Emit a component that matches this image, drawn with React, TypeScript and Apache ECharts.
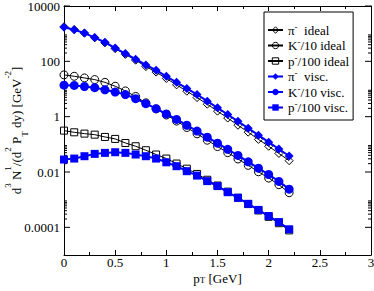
import React, { useEffect, useRef } from "react";
import * as echarts from "echarts";

const pT = [0, 0.1, 0.2, 0.3, 0.4, 0.5, 0.6, 0.7, 0.8, 0.9, 1.0, 1.1, 1.2, 1.3, 1.4, 1.5, 1.6, 1.7, 1.8, 1.9, 2.0, 2.1, 2.2];

const piIdeal = [1780, 1410, 1050, 708, 468, 288, 178, 110, 64.6, 40.7, 24.0, 14.1, 8.32, 4.9, 2.82, 1.58, 0.891, 0.49, 0.275, 0.151, 0.0851, 0.0468, 0.0257];
const kIdeal = [32.4, 28.8, 25.1, 21.9, 17.4, 12.6, 8.51, 5.37, 3.16, 1.91, 1.15, 0.692, 0.407, 0.24, 0.141, 0.0832, 0.0501, 0.0295, 0.0174, 0.0102, 0.00603, 0.00347, 0.00178];
const pIdeal = [0.313, 0.272, 0.244, 0.224, 0.185, 0.157, 0.112, 0.0853, 0.0612, 0.0428, 0.0306, 0.0202, 0.0132, 0.00851, 0.00525, 0.00324, 0.00195, 0.00117, 0.000692, 0.000407, 0.00024, 0.000141, 0.0000776];
const piVisc = [1700, 1380, 1050, 724, 490, 302, 191, 120, 74.1, 47.9, 28.8, 17.4, 10.5, 6.31, 3.63, 2.09, 1.2, 0.676, 0.38, 0.214, 0.12, 0.0676, 0.038];
const kVisc = [13.8, 13.5, 12.3, 11.2, 9.33, 7.76, 6.31, 4.47, 2.95, 1.95, 1.26, 0.794, 0.49, 0.302, 0.182, 0.11, 0.0661, 0.0398, 0.0234, 0.0138, 0.00813, 0.00457, 0.0024];
const pVisc = [0.0282, 0.0306, 0.0372, 0.0452, 0.0491, 0.0519, 0.0491, 0.0428, 0.0372, 0.0306, 0.0224, 0.0162, 0.0107, 0.00741, 0.00468, 0.00309, 0.00186, 0.00117, 0.000708, 0.000427, 0.000257, 0.000155, 0.0000851];

const yTickValues = [0.0001, 0.01, 1, 100, 10000];
const yTickLabels = ["0.0001", "0.01", "1", "100", "10000"];
const minorMultipliers = [2, 3, 4, 5, 6, 7, 8, 9];

const seriesNames = ["π- ideal", "K-/10 ideal", "p-/100 ideal", "π- visc.", "K-/10 visc.", "p-/100 visc."];
const legendRich: Record<string, string> = {
  "π- ideal": "{n|π}{s|-}{n|  ideal}",
  "K-/10 ideal": "{n|K}{s|-}{n|/10 ideal}",
  "p-/100 ideal": "{n|p}{s|-}{n|/100 ideal}",
  "π- visc.": "{n|π}{s|-}{n|  visc.}",
  "K-/10 visc.": "{n|K}{s|-}{n|/10 visc.}",
  "p-/100 visc.": "{n|p}{s|-}{n|/100 visc.}",
};

const FONT = "Liberation Serif";
const BLUE = "#0000ff";
const OPEN = "rgba(255,255,255,0)";

const rich = {
  n: { fontFamily: FONT, fontSize: 13, lineHeight: 16, color: "#000" },
  s: { fontFamily: FONT, fontSize: 9, lineHeight: 8, verticalAlign: "top", color: "#000" },
  b: { fontFamily: FONT, fontSize: 9, lineHeight: 9, verticalAlign: "bottom", color: "#000" },
};
const xRich = {
  n: { fontFamily: FONT, fontSize: 13, lineHeight: 12, color: "#000" },
  b: { fontFamily: FONT, fontSize: 9, lineHeight: 4, verticalAlign: "bottom", color: "#000" },
};
const yRich = {
  n: { fontFamily: FONT, fontSize: 13, lineHeight: 26, color: "#000" },
  s: { fontFamily: FONT, fontSize: 9, lineHeight: 11, verticalAlign: "top", color: "#000" },
  b: { fontFamily: FONT, fontSize: 9, lineHeight: 16, verticalAlign: "bottom", color: "#000" },
};

export default function App() {
  const ref = useRef<HTMLDivElement>(null);
  useEffect(() => {
    if (!ref.current) return;
    const chart = echarts.init(ref.current, undefined, { renderer: "svg" });

    const tickVals: number[][] = [];
    yTickValues.forEach((v) => tickVals.push([0, v, 1]));
    yTickValues.forEach((v) => {
      minorMultipliers.forEach((k) => {
        const t = v * k;
        if (t < 10000) tickVals.push([0, t, 0]);
      });
    });

    const mk = (v: number[]) => pT.map((x, i) => [x, v[i]]);

    const ideal = (name: string, data: number[], symbol: string, size: number) => ({
      name,
      type: "line",
      data: mk(data),
      symbol,
      symbolSize: size,
      showSymbol: true,
      z: 2,
      lineStyle: { color: "#000", width: 1 },
      itemStyle: { color: OPEN, borderColor: "#000", borderWidth: 1 },
    });
    const visc = (name: string, data: number[], symbol: string, size: number) => ({
      name,
      type: "line",
      data: mk(data),
      symbol,
      symbolSize: size,
      showSymbol: true,
      z: 3,
      lineStyle: { color: BLUE, width: 2 },
      itemStyle: { color: BLUE, borderColor: BLUE, borderWidth: 0 },
    });

    const xCommon = {
      type: "value",
      min: 0,
      max: 3,
      interval: 0.5,
      splitLine: { show: false },
      axisLine: { show: true, onZero: false, lineStyle: { color: "#000", width: 1 } },
      axisTick: { show: true, inside: true, length: 5, lineStyle: { color: "#000" } },
      minorTick: { show: true, splitNumber: 2, length: 3, lineStyle: { color: "#000" } },
    };
    const yCommon = {
      type: "log",
      logBase: 10,
      min: 0.00001,
      max: 10000,
      interval: 1,
      splitNumber: 9,
      splitLine: { show: false },
      axisLine: { show: true, onZero: false, lineStyle: { color: "#000", width: 1 } },
      axisTick: { show: false },
      minorTick: { show: false },
    };

    const legendData = seriesNames.map((name, i) =>
      i < 3
        ? { name, itemStyle: { color: OPEN, borderColor: "#000", borderWidth: 1 } }
        : { name }
    );

    chart.setOption({
      animation: false,
      backgroundColor: "#fff",
      grid: { left: 64, right: 3, top: 6, bottom: 36, containLabel: false, outerBoundsMode: "none" },
      xAxis: [
        {
          ...xCommon,
          position: "bottom",
          axisLabel: { show: true, margin: 3, fontFamily: FONT, fontSize: 13, lineHeight: 9, color: "#000" },
          name: "{n|p}{b|T}{n| [GeV]}",
          nameLocation: "middle",
          nameGap: 17,
          nameMoveOverlap: false,
          nameTextStyle: { rich: xRich },
        },
        { ...xCommon, position: "top", axisLabel: { show: false } },
      ],
      yAxis: [
        {
          ...yCommon,
          position: "left",
          axisLabel: {
            show: true,
            margin: 4,
            fontFamily: FONT,
            fontSize: 13,
            color: "#000",
            formatter: (v: number) => {
              const e = Math.round(Math.log10(v));
              const idx = yTickValues.findIndex((t) => Math.round(Math.log10(t)) === e);
              return idx >= 0 ? yTickLabels[idx] : "";
            },
          },
          name: "{n|d}{s|3}{n| N}{s|1}{n|/(d}{s|2}{n| P}{b|T}{n| dy) [GeV}{s|-2}{n|]}",
          nameLocation: "middle",
          nameRotate: 90,
          nameGap: 35,
          nameMoveOverlap: false,
          nameTextStyle: { rich: yRich },
        },
        { ...yCommon, position: "right", axisLabel: { show: false } },
      ],
      legend: {
        show: true,
        data: legendData,
        orient: "vertical",
        left: 264,
        top: 12,
        padding: [10, 4, 6, 3],
        itemGap: 1,
        itemWidth: 15,
        itemHeight: 8,
        borderColor: "#000",
        borderWidth: 1,
        backgroundColor: "#fff",
        formatter: (name: string) => legendRich[name] || name,
        textStyle: { fontFamily: FONT, fontSize: 13, rich },
      },
      series: [
        {
          type: "custom",
          name: "ticks",
          silent: true,
          clip: false,
          z: 1,
          data: tickVals,
          renderItem: (params: any, api: any) => {
            const v = api.value(1);
            const major = api.value(2) === 1;
            const len = major ? 6 : 3;
            const pl = api.coord([0, v]);
            const pr = api.coord([3, v]);
            return {
              type: "group",
              children: [
                { type: "line", shape: { x1: pl[0], y1: pl[1], x2: pl[0] + len, y2: pl[1] }, style: { stroke: "#000", lineWidth: 1 } },
                { type: "line", shape: { x1: pr[0], y1: pr[1], x2: pr[0] - len, y2: pr[1] }, style: { stroke: "#000", lineWidth: 1 } },
              ],
            };
          },
        },
        ideal(seriesNames[0], piIdeal, "diamond", 8),
        ideal(seriesNames[1], kIdeal, "circle", 8),
        ideal(seriesNames[2], pIdeal, "rect", 7),
        visc(seriesNames[3], piVisc, "diamond", 9),
        visc(seriesNames[4], kVisc, "circle", 9),
        visc(seriesNames[5], pVisc, "rect", 8),
      ],
    });
    return () => chart.dispose();
  }, []);
  return <div ref={ref} style={{ position: "absolute", left: 0, top: 0, width: 374, height: 291 }} />;
}
